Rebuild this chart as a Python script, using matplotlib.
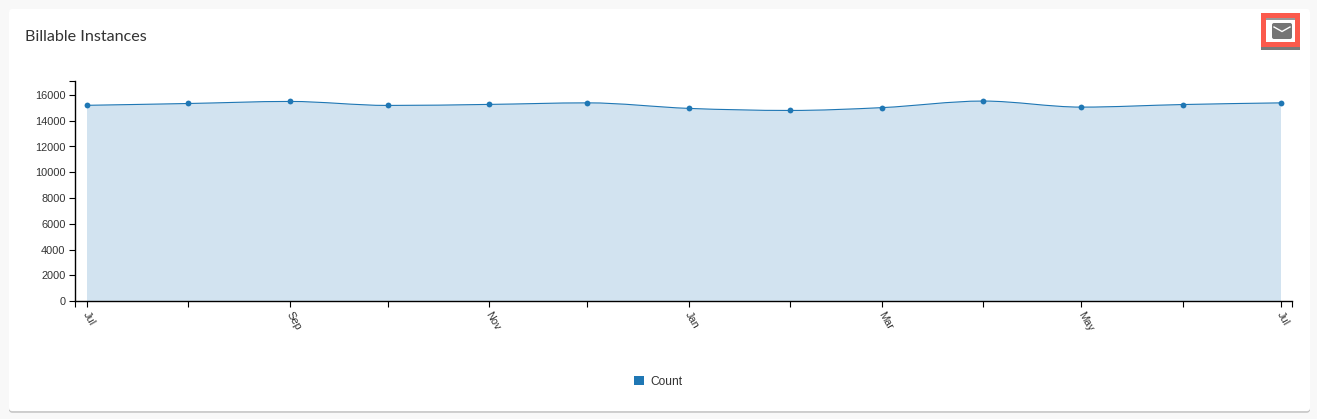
import numpy as np
import matplotlib
matplotlib.use('Agg')
import matplotlib.pyplot as plt
import matplotlib.dates as mdates
from matplotlib.patches import FancyBboxPatch, Rectangle, Patch, PathPatch
from matplotlib.path import Path
from matplotlib.transforms import ScaledTranslation

W, H = 1317, 419
dates = ['2016-07-01','2016-08-01','2016-09-01','2016-10-01','2016-11-01','2016-12-01','2017-01-01',
         '2017-02-01','2017-03-01','2017-04-01','2017-05-01','2017-06-01','2017-07-01']
counts = [15200,15340,15500,15190,15270,15390,14960,14800,15020,15530,15060,15260,15390]
tick_labels = ['Jul','','Sep','','Nov','','Jan','','Mar','','May','','Jul']
y_ticks = list(range(0,16001,2000))
BLUE = '#1f77b4'

x = mdates.date2num(np.array(dates, dtype='datetime64[D]'))
y = np.array(counts, float)

def monotone_path(x, y):
    h = np.diff(x); s = np.diff(y)/h
    m = np.zeros_like(y)
    for i in range(1, len(y)-1):
        if s[i-1]*s[i] > 0:
            p = (s[i-1]*h[i] + s[i]*h[i-1])/(h[i-1]+h[i])
            m[i] = np.sign(s[i])*min(abs(s[i-1]), abs(s[i]), 0.5*abs(p))*2
    m[0] = (3*s[0]-m[1])/2
    m[-1] = (3*s[-1]-m[-2])/2
    verts = [(x[0], y[0])]; codes = [Path.MOVETO]
    for i in range(len(h)):
        verts += [(x[i]+h[i]/3, y[i]+m[i]*h[i]/3), (x[i+1]-h[i]/3, y[i+1]-m[i+1]*h[i]/3), (x[i+1], y[i+1])]
        codes += [Path.CURVE4]*3
    return verts, codes

plt.rcParams['font.family'] = ['Liberation Sans', 'DejaVu Sans']
fig = plt.figure(figsize=(W/100, H/100), dpi=100, facecolor='#f8f8f8')

bg = fig.add_axes([0,0,1,1]); bg.set_xlim(0,W); bg.set_ylim(H,0); bg.axis('off')
for off, col in [(1.6,'#b5b5b5'),(0.8,'#d4d4d4')]:
    bg.add_patch(FancyBboxPatch((9,9+off),1301,402,boxstyle='round,pad=0,rounding_size=3',fc=col,ec='none'))
bg.add_patch(FancyBboxPatch((9,9),1301,402,boxstyle='round,pad=0,rounding_size=3',fc='white',ec='none'))
bg.text(25,37,'Billable Instances',family='Lato',fontsize=11.6,color='#333333',va='center',ha='left')

# mail button
bg.add_patch(Rectangle((1261,46),39,4,fc='#7a7a7a',ec='none'))
bg.add_patch(Rectangle((1261,13),39,34,fc='#fb5a4c',ec='none'))
bg.add_patch(Rectangle((1266,18),29,24.5,fc='white',ec='none'))
bg.add_patch(Rectangle((1266,18),29,2.5,fc='#999999',ec='none'))
bg.add_patch(FancyBboxPatch((1272,23),20,16,boxstyle='round,pad=0,rounding_size=2',fc='#757575',ec='none'))
bg.plot([1274,1282,1290],[27,31.5,27],color='white',lw=1.0,solid_joinstyle='miter')

# chart
x0, x1 = 75.0, 1292.0
top, bottom = 81.0, 301.0
ax = fig.add_axes([x0/W, 1-bottom/H, (x1-x0)/W, (bottom-top)/H])
ax.patch.set_alpha(0)
ppd = (1281.0-87.0)/(x[-1]-x[0])
ax.set_xlim(x[0]-(87.0-x0)/ppd, x[-1]+(x1-1281.0)/ppd)
ax.set_ylim(0, (bottom-top)/206.0*16000)

verts, codes = monotone_path(x, y)
area_v = verts + [(x[-1],0),(x[0],0),(x[0],y[0])]
area_c = codes + [Path.LINETO,Path.LINETO,Path.CLOSEPOLY]
ax.add_patch(PathPatch(Path(area_v,area_c),fc=BLUE,alpha=.2,ec='none'))
ax.add_patch(PathPatch(Path(verts,codes),fc='none',ec=BLUE,lw=0.8))
ax.plot(x,y,'o',color=BLUE,ms=4.2,mew=0,clip_on=False,zorder=5)

for s in ('top','right'): ax.spines[s].set_visible(False)
for s in ('left','bottom'): ax.spines[s].set_linewidth(1); ax.spines[s].set_color('black')
ax.set_xticks(x); ax.set_xticklabels(tick_labels,rotation=-60,ha='left',va='center',rotation_mode='anchor',fontsize=7.9,color='#333333')
ax.set_yticks(y_ticks); ax.set_yticklabels([str(v) for v in y_ticks],fontsize=7.9,color='#333333')
ax.tick_params(axis='both',length=4.3,width=0.8,color='black')
ax.tick_params(axis='x',pad=4)
ax.tick_params(axis='y',pad=2.5)
ax.set_xticks(ax.get_xlim(),minor=True); ax.set_yticks([ax.get_ylim()[1]],minor=True)
ax.tick_params(which='minor',length=4.3,width=0.8,color='black')
shift = ScaledTranslation(-1.2/100, 0, fig.dpi_scale_trans)
for lab in ax.get_xticklabels():
    lab.set_transform(lab.get_transform() + shift)

fig.legend(handles=[Patch(color=BLUE,label='Count',lw=0)],loc='center',bbox_to_anchor=(658/W,1-381.6/H),
           frameon=False,fontsize=8.64,handlelength=.83,handleheight=.83,handletextpad=.5,labelcolor='#333333',borderpad=0)
fig.savefig('out.png',dpi=100,facecolor=fig.get_facecolor())
